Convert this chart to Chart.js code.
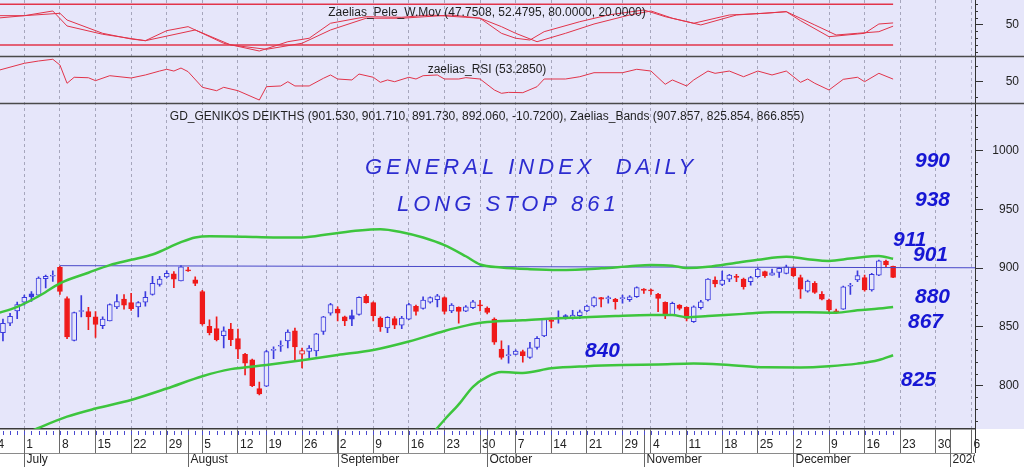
<!DOCTYPE html>
<html><head><meta charset="utf-8">
<script src="https://cdn.jsdelivr.net/npm/chart.js@4.4.1/dist/chart.umd.min.js"></script>
<style>
html,body{margin:0;padding:0;background:#fff;overflow:hidden;width:1024px;height:467px;}
#wrap{position:absolute;left:-12px;top:0;width:1036px;height:467px;}
canvas{display:block;}
</style></head><body>
<div id="wrap"><canvas id="c" width="1036" height="467"></canvas></div>
<script>
// ---------------- DATA ----------------
// x = trading-day index; 0 = Mon 24 Jun 2019. First candle = index 2 (Wed 26 Jun), last = 127 (Fri 20 Dec)
const FIRST_DAY = 2;
const opens = [845, 853, 863.5,
 871, 878, 877, 891, 893,
 900.5, 874, 838.5, 863, 863,
 858.5, 851, 855, 867, 873.5,
 870.5, 867, 871, 877.5, 886,
 892.5, 895, 889, 898.3, 890,
 880, 850.5, 848.5, 842.5, 848,
 840, 826.5, 822, 797.5,
 799.5, 830, 833.5, 838, 846.5,
 826.7, 829, 829.5, 846, 861.5,
 865, 858.5, 859.5, 860.5, 876,
 870.5, 857.5, 849, 857, 851.5,
 856.5, 867.5, 865.7, 871, 873,
 874.8, 863.5, 866.5, 863.4, 866.2,
 868.5, 866, 856.5, 831, 825.5,
 826.6, 829, 824, 832.5, 842.2,
 856, 857.5, 859.5, 857.5, 859.5,
 863.5, 867.7, 874.8, 874, 873.4,
 874, 873, 875.6, 882,
 881.5, 877.6, 870.8, 860, 868.5,
 866.6, 854.3, 866.2, 872.8, 889.8,
 886, 890.6, 892.5, 890.6, 888.4,
 892.6, 897, 894, 896.3, 895.5,
 899.7, 891.8, 880.4, 887, 877.6,
 872.8, 863.2, 865.1, 884.5, 889.8,
 891.8, 881.3, 894, 906, 901.53];
const highs = [856.5, 861.5, 871,
 877, 880, 892.5, 894, 897.5,
 901.5, 875.5, 862.5, 876.5, 866.5,
 863, 858.5, 869.5, 877.5, 877.5,
 878.5, 871.5, 880, 893, 893,
 897.5, 897, 902, 900.5, 892.5,
 881, 856, 858.5, 850, 853,
 848, 827.5, 822.5, 803,
 830, 833, 838, 847.5, 849,
 832, 834, 844.5, 859, 870,
 867, 859.2, 864.3, 875.5, 877.5,
 871.3, 858.5, 858.6, 858.6, 859,
 870, 868.5, 875.6, 875.6, 877.6,
 875.5, 869.8, 867, 868, 872.5,
 872.5, 867, 857.7, 838, 834,
 830.5, 830.3, 836.8, 841.6, 857.2,
 857, 863.5, 860.5, 864, 864.3,
 868.5, 875.6, 875, 876.2, 874.2,
 877, 876.5, 884, 882.5,
 882, 878.5, 871.3, 871, 869,
 867, 867.8, 872.5, 891, 892.6,
 897.4, 894.6, 894.6, 891.5, 893,
 900, 897.4, 899, 900.3, 902.5,
 901, 894, 889.8, 888.4, 880,
 873.6, 865, 884.7, 887, 897.7,
 894, 895.5, 906.8, 906.8, 901.71];
const lows = [838, 851, 857,
 868.5, 871.5, 876.5, 883, 888.5,
 877.5, 840, 838, 858.5, 847.5,
 841, 848.5, 855, 865.5, 865,
 864, 858.5, 867.5, 877, 884.5,
 891.5, 883.3, 889, 897.2, 885,
 851.5, 843, 838, 832, 834,
 823, 809, 799, 792,
 799, 823, 829, 832, 822,
 815, 823, 825, 843.5, 860,
 855, 851, 851, 860, 870,
 855, 846, 845, 848.5, 848.5,
 856, 860, 865, 870, 867,
 861, 862, 853, 862.8, 865.5,
 863.5, 861, 835, 822.5, 819,
 826, 820, 823.2, 831, 841.6,
 849, 853, 856.5, 856.5, 857,
 862.8, 867, 867, 870, 865,
 870, 871.5, 875, 878.5,
 877.6, 862.8, 857, 859.4, 864.3,
 855, 853.7, 865, 872, 884,
 885, 888.4, 888.4, 882, 885.5,
 892, 892, 894, 892, 895,
 892.6, 874.2, 879.5, 878.5, 872.8,
 862.3, 861.7, 864.8, 877.6, 888.4,
 880.4, 880.4, 893.5, 901.1, 891.73];
const closes = [853, 859, 869,
 875, 875.5, 891.5, 893, 893.5,
 880, 841.5, 862, 863.5, 858.5,
 852, 856.5, 869, 871.5, 868.5,
 865.5, 870.5, 875, 887, 890.5,
 895.5, 890.5, 901, 897.5, 887,
 852.5, 845, 839, 846.5, 839,
 831, 819, 800, 793,
 829, 830.5, 834, 845.5, 833,
 829.7, 832, 844, 858.5, 869,
 861.5, 855, 856.5, 875, 870.5,
 859.5, 850, 858, 851.5, 857.5,
 869, 863, 872.8, 874.8, 876.4,
 863, 868.5, 863, 867, 871.3,
 867.8, 862.3, 837, 824, 826,
 829.4, 825.5, 832.2, 840.2, 856.4,
 854.5, 858, 858.5, 860, 862.8,
 867.7, 874.8, 873.5, 874.3, 871.3,
 874.3, 875.5, 883.3, 881,
 880.5, 874.2, 860.6, 870, 865.7,
 857.2, 867, 871.3, 890.6, 886.4,
 889.8, 894, 892, 884.1, 891.8,
 899.1, 893.5, 896, 899.7, 901.1,
 893.5, 882, 888.9, 879.3, 873.4,
 864.3, 862.8, 884.1, 885, 893.5,
 881.3, 894.6, 906.2, 902.78, 892.06];

// Zaelias_Bands  [day index, value]
const upperBand = [[1,861],[4,867],[7,876],[10,887],[14,896],[17,902.5],[20,907],[23,911.5],[27,922],[29,926],[31,927],[36,926.6],[40,926],[44,926],[48,929],[52,932],[55,933],[58,930.5],[61,926],[64,919.5],[67,910],[69,903],[72,900.5],[76,899],[80,898.3],[86,899.7],[90,901.5],[93,902.6],[96,902],[98,900],[101,901],[105,904.5],[108,907],[112,909.6],[115,907.5],[118,906],[121,908],[124,910],[125,910.2],[127,907.857]];
const middleBand = [[4,756],[7,764],[11,773.6],[15,780.5],[20,787.8],[25,797.5],[30,808],[34,814],[39,817.5],[44,821.5],[49,826],[54,830.3],[59,837.5],[64,846.5],[67,851],[70,854],[75,855.5],[79,857],[83,858],[88,859.2],[93,860],[96,860],[98,858.2],[101,859.2],[106,861],[110,862.3],[115,862.3],[119,862],[122,864],[125,865.5],[127,866.855]];
const lowerBand = [[62,757],[64,771],[66,784],[68,799],[70,807.5],[72,811.5],[75,810.8],[79,814.7],[84,816.5],[89,817.5],[94,818],[99,818.8],[104,817.5],[109,815.6],[114,815.5],[118,816.5],[122,818.7],[125,821.8],[127,825.854]];
const resistanceLine = [[10,902.0],[138.5,900.2]];

// Zaelias_Pele_W.Mov
const peleFast = [[1,63.2],[5,63.2],[9,70.1],[11,48],[16,35.8],[22,26.3],[25,41.1],[28,47],[33,22.5],[38,11.1],[42,24.8],[45,29.9],[48,52],[53,61.7],[58,60.8],[62,64.2],[67,60.8],[69,59.4],[72,37.2],[74,29.9],[76,27.3],[78,39.6],[83,54.3],[87,64.2],[92,71.6],[95,61.7],[99,52],[104,64.2],[109,66.7],[112,69.1],[114,55.8],[118,32.2],[123,37.2],[125,50.9],[127,52.4795]];
const peleSlow = [[1,59.4],[5,63.2],[10,66.7],[11,56.8],[16,37.2],[20,28.8],[22,26.3],[29,42.1],[34,20],[39,13.6],[44,22.5],[48,42.1],[53,59.4],[58,59.4],[65,64.2],[69,59.4],[72,47],[74,37.2],[77,24.8],[81,37.2],[85,50.9],[90,64.2],[93,70.1],[96,59.4],[100,49.5],[105,64.2],[110,67.6],[112,69.1],[116,49.5],[119,34.7],[122,37.2],[125,39.6],[127,47.7508]];
const peleLevels = [80, 20];
const peleLevelSpan = [-0.1, 127];

// zaelias_RSI
const rsi = [[1,63.5],[5,73.3],[7,76.2],[9,78.4],[10,71.1],[11,48],[12,55.6],[14,55],[15,51.3],[17,57.6],[20,54.7],[22,58.5],[24,63.5],[25,65.7],[26,63.5],[27,67.3],[28,62.7],[30,42.9],[32,38.6],[33,42.9],[35,38.6],[38,26.8],[39,43.7],[41,44.6],[42,50],[43,44.6],[45,44.6],[47,54.3],[48,58.5],[49,53.4],[51,52.2],[52,59.7],[54,55.6],[55,49.2],[56,52.2],[57,50],[59,55.6],[60,53.4],[61,57.6],[63,58.5],[64,53.4],[66,53.4],[67,55.1],[69,53.4],[71,39.5],[72,35.3],[73,36.5],[75,36.1],[77,43.7],[78,53.4],[81,53.4],[83,56.3],[85,61.4],[89,61.4],[91,65.7],[93,63.5],[95,46.7],[96,52.2],[98,44.6],[99,52.2],[101,63.5],[102,60.6],[104,63.5],[106,56.3],[108,63.5],[110,58.5],[112,63.5],[114,49.2],[115,53.4],[116,48],[118,39.5],[120,53],[122,55.6],[123,50],[125,60.6],[127,53.285]];

// Axis ticks
const weekTickIndex  = [0,5,10,15,20,25,30,35,39,44,49,54,59,64,69,74,79,84,89,93,98,103,108,113,118,123,128,133,138];
const weekTickLabels = ['24','1','8','15','22','29','5','12','19','26','2','9','16','23','30','7','14','21','29','4','11','18','25','2','9','16','23','30','6'];
const monthIndex  = [5,28,49,70,92,113,135];
const monthLabels = ['July','August','September','October','November','December','2020'];
const mainTicks = [800,850,900,950,1000];
const mainMinor = [770,780,790,810,820,830,840,860,870,880,890,910,920,930,940,960,970,980,990,1010,1020,1030];
const peleTicks = [50], peleMinor = [10,20,30,40,60,70,80];
const rsiTicks = [50], rsiMinor = [30,70];

// Texts
const titlePele = 'Zaelias_Pele_W.Mov (47.7508, 52.4795, 80.0000, 20.0000)';
const titleRsi  = 'zaelias_RSI (53.2850)';
const titleMain = 'GD_GENIKOS DEIKTHS (901.530, 901.710, 891.730, 892.060, -10.7200), Zaelias_Bands (907.857, 825.854, 866.855)';
const handNotes = ['GENERAL INDEX  DAILY', 'LONG STOP 861'];
const levelNotes = ['990','938','911','901','880','867','825','840'];

// ---------------- STYLE / LAYOUT ----------------
const FONT = '"Liberation Sans", Arial, Helvetica, sans-serif';
const OFF = 12;              // canvas is shifted 12px left of page
const LAV = '#e6e6fa', BLUE = '#3a3ade', RED = '#ef1a1a', GREEN = '#3dc53d', IRED = '#e2344a';
const handPos  = [[365,174],[397,211]];
const levelPos = [[915,167],[915,206],[893,246],[913,261],[915,303],[908,328],[901,386],[585,357]];

const pairs = a => a.map(p => ({x:p[0], y:p[1]}));
const idx = opens.map((_, k) => FIRST_DAY + k);
const cColor = closes.map((c,k) => c >= (k ? closes[k-1] : opens[k]) ? BLUE : RED);
const cFill  = closes.map((c,k) => c > opens[k] ? LAV : cColor[k]);

const lineDs = (data, axis, color, width, extra) => Object.assign({
  type:'line', data: pairs(data), yAxisID: axis, borderColor: color, borderWidth: width,
  pointRadius: 0, tension: 0, fill: false, order: 0
}, extra || {});

const datasets = [
  lineDs(upperBand, 'yM', GREEN, 2.5, {cubicInterpolationMode:'monotone'}),
  lineDs(middleBand, 'yM', GREEN, 2.5, {cubicInterpolationMode:'monotone'}),
  lineDs(lowerBand, 'yM', GREEN, 2.5, {cubicInterpolationMode:'monotone'}),
  lineDs(resistanceLine, 'yM', '#4848c8', 1),
  lineDs(peleLevelSpan.map(x=>[x,peleLevels[0]]), 'yP', IRED, 1.5),
  lineDs(peleLevelSpan.map(x=>[x,peleLevels[1]]), 'yP', IRED, 1.5),
  lineDs(peleFast, 'yP', IRED, 1),
  lineDs(peleSlow, 'yP', IRED, 1),
  lineDs(rsi, 'yR', IRED, 1),
  { type:'bar', data: opens.map((o,k)=>({x: idx[k], y:[o, closes[k]]})), yAxisID:'yM',
    backgroundColor: cFill, borderColor: cColor, borderWidth: 1, borderSkipped: false,
    barThickness: 5, grouped: false, minBarLength: 1, order: 1 },
  { type:'bar', data: lows.map((l,k)=>({x: idx[k], y:[l, highs[k]]})), yAxisID:'yM',
    backgroundColor: cColor, borderWidth: 0, barThickness: 1, grouped: false, order: 2 }
];

const yAxis = (weight, stackWeight, min, max, ticks) => ({
  type:'linear', position:'right', stack:'panels', stackWeight, weight, min, max,
  afterBuildTicks: s => { s.ticks = ticks.map(v => ({value:v})); },
  afterFit: s => { s.width = 44; s.paddingTop = 0; s.paddingBottom = 0; },
  grid:{ drawOnChartArea:false, drawTicks:true, tickLength:8, tickColor:'#333', tickWidth:1 },
  border:{ display:true, color:'#333', width:1 },
  ticks:{ crossAlign:'far', padding:4, color:'#222', font:{family:FONT, size:12}, callback: v => String(v) }
});

const overlay = {
  id:'overlay',
  beforeDraw(chart){
    const {ctx, chartArea, width, height} = chart;
    ctx.save();
    ctx.fillStyle = '#ffffff'; ctx.fillRect(0,0,width,height);
    ctx.fillStyle = LAV; ctx.fillRect(0,0,width,chartArea.bottom);
    ctx.restore();
  },
  afterDraw(chart){
    const {ctx, chartArea, width, height, scales} = chart;
    const xs = scales.x;
    ctx.save();
    // minor ticks on right axes
    ctx.strokeStyle = '#333'; ctx.lineWidth = 1;
    [[scales.yP, peleMinor],[scales.yR, rsiMinor],[scales.yM, mainMinor]].forEach(([s, list]) => {
      list.forEach(v => {
        const y = Math.round(s.getPixelForValue(v)) + 0.5;
        ctx.beginPath(); ctx.moveTo(s.left, y); ctx.lineTo(s.left + 3, y); ctx.stroke();
      });
    });
    // panel separators
    ctx.strokeStyle = '#4a4a4a'; ctx.lineWidth = 1.5;
    [scales.yR.top, scales.yM.top].forEach(y => {
      ctx.beginPath(); ctx.moveTo(0, y); ctx.lineTo(width, y); ctx.stroke();
    });
    // x axis: row divider, month separators and labels, daily ticks
    const b = chartArea.bottom;
    ctx.strokeStyle = '#8a8a8a'; ctx.lineWidth = 1;
    ctx.beginPath(); ctx.moveTo(0, b + 24.5); ctx.lineTo(chartArea.right, b + 24.5); ctx.stroke();
    ctx.strokeStyle = '#333';
    ctx.beginPath(); ctx.moveTo(chartArea.right + 0.5, b); ctx.lineTo(chartArea.right + 0.5, b + 24); ctx.stroke();
    ctx.strokeStyle = '#666';
    ctx.font = '12px ' + FONT; ctx.fillStyle = '#222'; ctx.textBaseline = 'alphabetic'; ctx.textAlign = 'left';
    ctx.save();
    ctx.beginPath(); ctx.rect(0, b, chartArea.right, height - b); ctx.clip();
    monthIndex.forEach((m, k) => {
      const x = Math.round(xs.getPixelForValue(m)) + 0.5;
      ctx.beginPath(); ctx.moveTo(x, b); ctx.lineTo(x, height); ctx.stroke();
      ctx.fillText(monthLabels[k], x + 2, height - 4);
    });
    ctx.restore();
    ctx.strokeStyle = '#4a4ad0';
    for (let i = 0; i <= FIRST_DAY + opens.length - 1; i++) {
      const x = Math.round(xs.getPixelForValue(i)) + 0.5;
      ctx.beginPath(); ctx.moveTo(x, b + 2); ctx.lineTo(x, b + 6); ctx.stroke();
    }
    // titles
    const cx = 487 + OFF;
    ctx.fillStyle = '#1e1e1e'; ctx.textAlign = 'center'; ctx.font = '12px ' + FONT;
    ctx.fillText(titlePele, cx, 16);
    ctx.fillText(titleRsi, cx, 72.5);
    ctx.fillText(titleMain, cx, 119.5);
    // handwritten note
    ctx.textAlign = 'left'; ctx.fillStyle = '#2c2cd0';
    ctx.font = 'italic 22px ' + FONT;
    try { ctx.letterSpacing = '4px'; } catch(e) {}
    handNotes.forEach((t, k) => ctx.fillText(t, handPos[k][0] + OFF, handPos[k][1]));
    try { ctx.letterSpacing = '0px'; } catch(e) {}
    // level notes
    ctx.fillStyle = '#1616d4'; ctx.font = 'italic bold 21px ' + FONT;
    levelNotes.forEach((t, k) => ctx.fillText(t, levelPos[k][0] + OFF, levelPos[k][1]));
    ctx.restore();
  }
};

Chart.defaults.font.family = FONT;
new Chart(document.getElementById('c'), {
  type:'bar',
  data:{ datasets },
  options:{
    responsive:false, animation:false, events:[],
    layout:{ padding:{ left:0, top:0, bottom:0, right:5 } },
    plugins:{ legend:{display:false}, tooltip:{enabled:false}, title:{display:false} },
    scales:{
      x:{ type:'linear', position:'bottom', min:-0.1, max:138.5, offset:false,
        afterBuildTicks: s => { s.ticks = weekTickIndex.map(v => ({value:v})); },
        afterFit: s => { s.height = 38; s.paddingLeft = 0; s.paddingRight = 0; },
        grid:{ offset:false, color:'#a6a6bc', lineWidth:1, drawOnChartArea:true, drawTicks:true,
               tickLength:24, tickColor:'#6a6a6a', tickWidth:1 },
        border:{ display:true, color:'#3a3a3a', width:1.5, dash:[3,3] },
        ticks:{ autoSkip:false, maxRotation:0, minRotation:0, align:'start', labelOffset:2, padding:-16,
                color:'#222', font:{family:FONT, size:12},
                callback: v => { const k = weekTickIndex.indexOf(v); return k >= 0 ? weekTickLabels[k] : ''; } }
      },
      yP: yAxis(1, 56.5, 3.0, 86.3, peleTicks),
      yR: yAxis(2, 47, 22.4, 81.9, rsiTicks),
      yM: yAxis(3, 325.5, 763.1, 1039.9, mainTicks)
    }
  },
  plugins:[overlay]
});
</script>
</body></html>
